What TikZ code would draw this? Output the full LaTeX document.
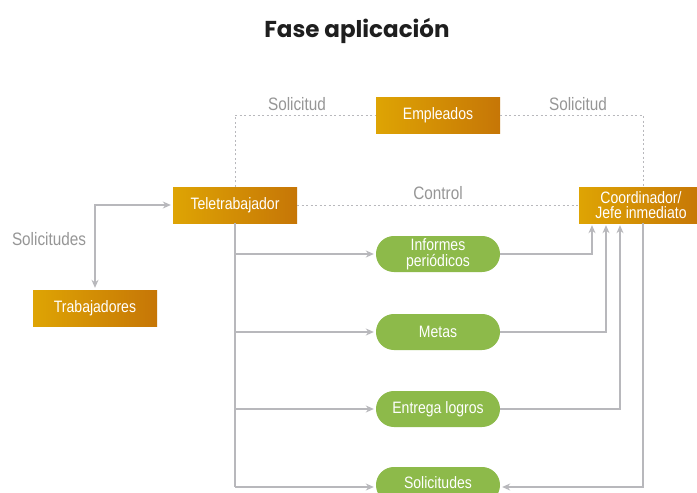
\documentclass[tikz,border=0pt]{standalone}
\usepackage{fontspec}
\setmainfont{Liberation Sans}
\newfontfamily\narrowfont{Liberation Sans}[FakeStretch=0.85]
\newfontfamily\titlefont{Poppins}
\usetikzlibrary{arrows.meta}
\definecolor{goldA}{RGB}{222,164,4}
\definecolor{goldB}{RGB}{214,148,2}
\definecolor{goldC}{RGB}{198,118,6}
\definecolor{pillgreen}{RGB}{141,186,74}
\definecolor{linegray}{RGB}{184,184,188}
\definecolor{labelgray}{RGB}{150,150,150}
\definecolor{titlecol}{RGB}{30,30,30}
\tikzset{
  orangebox/.style={rectangle, minimum width=124pt, minimum height=36pt, inner sep=0pt,
    left color=goldA, middle color=goldB, right color=goldC, text=white, align=center,
    font=\narrowfont\fontsize{16.5}{15.5}\selectfont},
  greenpill/.style={rectangle, rounded corners=17.9pt, minimum width=124pt, minimum height=36pt,
    inner sep=0pt, fill=pillgreen, text=white, align=center,
    font=\narrowfont\fontsize{16.5}{15.5}\selectfont},
  conn/.style={draw=linegray, line width=1.1pt},
  arr/.style={conn, -{Stealth[length=8pt,width=7pt]}, shorten >=2pt},
  dotline/.style={draw=linegray, line width=1pt, dash pattern=on 2pt off 2.5pt},
  lbl/.style={text=labelgray, font=\narrowfont\fontsize{18}{18}\selectfont, inner sep=0pt}
}
\begin{document}
\begin{tikzpicture}[x=1pt,y=-1pt]
\useasboundingbox (0,0) rectangle (697,493);
\clip (0,0) rectangle (697,493);
\fill[white] (0,0) rectangle (697,493);

\node[font=\titlefont\bfseries\fontsize{23}{24}\selectfont, text=titlecol] (title) at (357,31) {Fase aplicación};

\node[orangebox] (emp) at (438,115) {Empleados};
\node[orangebox] (tele) at (235,205) {Teletrabajador};
\node[orangebox] (coord) at (641,205) {Coordinador/\\Jefe inmediato};
\node[orangebox] (trab) at (95,308) {Trabajadores};

\node[greenpill] (info) at (438,254) {Informes\\periódicos};
\node[greenpill] (metas) at (438,332) {Metas};
\node[greenpill] (entrega) at (438,409) {Entrega logros};
\node[greenpill, text depth=4pt] (solic) at (438,485) {Solicitudes};

% dotted connections
\draw[dotline] (tele.north) |- (emp.west);
\draw[dotline] (emp.east) -| ([xshift=2pt]coord.north);
\draw[dotline] (tele.east) -- (coord.west);

% labels
\node[lbl] (l1) at (297,104) {Solicitud};
\node[lbl] (l2) at (578,104) {Solicitud};
\node[lbl] (l3) at (438,193) {Control};
\node[lbl] (l4) at (49,239) {Solicitudes};

% left two-way arrow
\draw[conn, {Stealth[length=8pt,width=7pt]}-{Stealth[length=8pt,width=7pt]}, shorten >=2pt, shorten <=2pt]
  (trab.north) |- (tele.west);

% trunk from Teletrabajador
\coordinate (trunk) at (235,487);
\draw[conn] (tele.south) -- (trunk);
\draw[arr] (tele.south |- info.west) -- (info.west);
\draw[arr] (tele.south |- metas.west) -- (metas.west);
\draw[arr] (tele.south |- entrega.west) -- (entrega.west);
\draw[arr] (trunk) -- (trunk -| solic.west);

% to coordinator
\draw[arr] (info.east) -| ([xshift=-49pt]coord.south);
\draw[arr] (metas.east) -| ([xshift=-35pt]coord.south);
\draw[arr] (entrega.east) -| ([xshift=-21pt]coord.south);
\draw[arr] ([xshift=2pt]coord.south) |- (solic.east |- trunk);
\end{tikzpicture}
\end{document}
